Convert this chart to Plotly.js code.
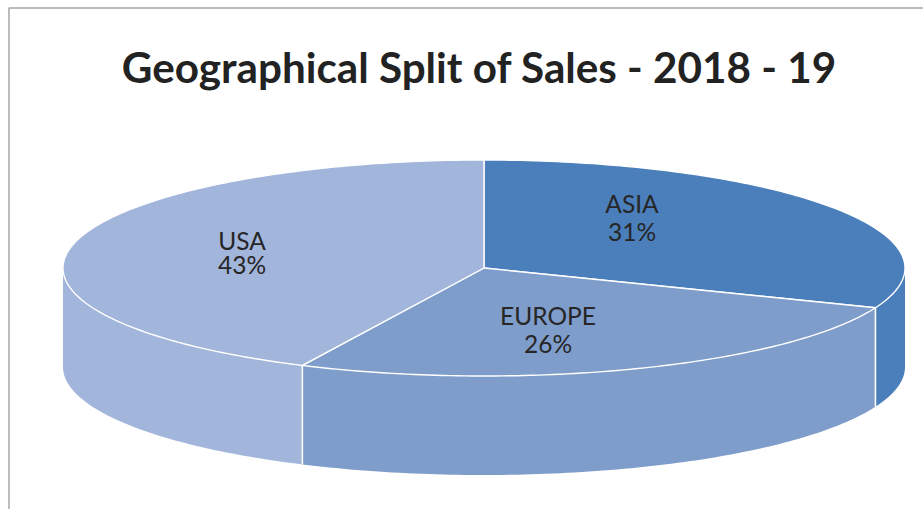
<!DOCTYPE html>
<html><head><meta charset="utf-8">
<script src="https://cdn.plot.ly/plotly-3.0.1.min.js"></script>
<style>html,body{margin:0;padding:0;background:#fff}</style></head>
<body><div id="chart" style="width:923px;height:509px"></div>
<script>
const categories = ["ASIA", "EUROPE", "USA"];
const shares = [31, 26.1, 42.9];
const colors = ["#4A7FBB", "#7F9DCB", "#A2B5DB"];
const labelX = [632, 548, 242];
const nameY = [207, 319, 244];
const pctY = [235, 347, 268];
const chartTitle = "Geographical Split of Sales - 2018 - 19";

const W = 923, H = 509, cx = 484, cy = 268, rx = 421, ry = 108, depth = 99;
const total = shares.reduce((a, b) => a + b, 0);
const pt = (deg, dy) => [cx + rx * Math.sin(deg * Math.PI / 180), cy + dy - ry * Math.cos(deg * Math.PI / 180)];
function arc(a, b, dy) {
  const out = [], n = Math.max(2, Math.ceil(Math.abs(b - a)));
  for (let i = 0; i <= n; i++) out.push(pt(a + (b - a) * i / n, dy));
  return out;
}
function poly(points, color, lw) {
  return {
    type: "scatter", mode: "lines", x: points.map(p => p[0]), y: points.map(p => p[1]),
    fill: "toself", fillcolor: color, line: {color: "#FFFFFF", width: lw, simplify: false},
    hoverinfo: "skip", showlegend: false
  };
}
const traces = [], tops = [];
let start = 0;
shares.forEach((v, i) => {
  const end = start + v / total * 360;
  const a = Math.max(start, 90), b = Math.min(end, 270);
  if (b > a) {
    const wall = arc(a, b, 0).concat(arc(b, a, depth));
    wall.push(wall[0]);
    const t = poly(wall, colors[i], 0);
    t.mode = "none";
    traces.push(t);
    if (a === start) {
      const p = [pt(a, 0), pt(a, depth)];
      traces.push({type: "scatter", mode: "lines", x: p.map(q => q[0]), y: p.map(q => q[1]),
        line: {color: "#FFFFFF", width: 1.6}, hoverinfo: "skip", showlegend: false});
    }
  }
  const top = [[cx, cy]].concat(arc(start, end, 0));
  top.push([cx, cy]);
  tops.push(poly(top, colors[i], 1.4));
  start = end;
});
traces.push(...tops);
const labelFont = {family: "Lato, Carlito, sans-serif", size: 24.5, color: "#262626"};
traces.push({
  type: "scatter", mode: "text", x: labelX, y: nameY, text: categories,
  textposition: "middle center", textfont: labelFont, hoverinfo: "skip", showlegend: false
});
traces.push({
  type: "scatter", mode: "text", x: labelX, y: pctY, text: shares.map(s => Math.round(s) + "%"),
  textposition: "middle center", textfont: labelFont, hoverinfo: "skip", showlegend: false
});
const layout = {
  width: W, height: H, margin: {l: 0, r: 0, t: 0, b: 0},
  paper_bgcolor: "#FFFFFF", plot_bgcolor: "#FFFFFF", showlegend: false,
  xaxis: {range: [0, W], visible: false, fixedrange: true},
  yaxis: {range: [H, 0], visible: false, fixedrange: true},
  title: {text: "<b>" + chartTitle + "</b>", x: 479 / W, xanchor: "center", y: 1 - 68 / H, yanchor: "middle",
    font: {family: "Lato, Carlito, sans-serif", size: 42.2, color: "#222222"}},
  shapes: [
    {type: "line", xref: "x", yref: "y", x0: 8.5, x1: 923, y0: 8, y1: 8, line: {color: "#A6A6A6", width: 1.5}},
    {type: "line", xref: "x", yref: "y", x0: 9, x1: 9, y0: 8, y1: 509, line: {color: "#A6A6A6", width: 1.5}}
  ]
};
Plotly.newPlot("chart", traces, layout, {displayModeBar: false, staticPlot: true});
</script></body></html>
